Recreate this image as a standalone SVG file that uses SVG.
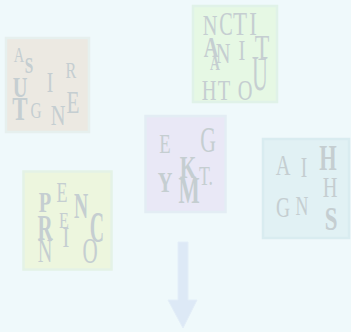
<svg xmlns="http://www.w3.org/2000/svg" width="351" height="332" viewBox="0 0 351 332">
<style>
.bg{fill:#eff9fb}
.box{stroke-width:2.5}
.l{font-family:"Liberation Serif","Times New Roman",serif;fill:#c5ced1;text-anchor:middle}
.b{font-weight:bold}
</style>
<rect class="bg" x="0" y="0" width="351" height="332"/>
<g id="signature">
<rect class="box" x="6" y="38" width="83" height="94" fill="#ece9e2" stroke="#e6f0ee"/>
<text class="l" font-size="17" transform="translate(19,62) scale(0.85,1.25)">A</text>
<text class="l b" font-size="18" transform="translate(29,73) scale(0.85,1.25)">S</text>
<text class="l" font-size="23" transform="translate(50,92) scale(0.85,1.25)">I</text>
<text class="l" font-size="19" transform="translate(71,78) scale(0.85,1.25)">R</text>
<text class="l b" font-size="24" transform="translate(20,97) scale(0.85,1.25)">U</text>
<text class="l b" font-size="27" transform="translate(20,120) scale(0.85,1.25)">T</text>
<text class="l" font-size="18" transform="translate(36,118) scale(0.85,1.25)">G</text>
<text class="l" font-size="24" transform="translate(58,125) scale(0.85,1.25)">N</text>
<text class="l" font-size="25" transform="translate(73,113) scale(0.85,1.25)">E</text>
</g>
<g id="authentication">
<rect class="box" x="193" y="6" width="84" height="96" fill="#e6f8e4" stroke="#e0f2e8"/>
<text class="l" font-size="24" transform="translate(210,35) scale(0.85,1.25)">N</text>
<text class="l" font-size="27" transform="translate(226,35) scale(0.75,1.25)">C</text>
<text class="l" font-size="27" transform="translate(240,35) scale(0.85,1.25)">T</text>
<text class="l" font-size="27" transform="translate(253,35) scale(0.85,1.25)">I</text>
<text class="l b" font-size="24" transform="translate(211,57) scale(0.85,1.25)">A</text>
<text class="l" font-size="24" transform="translate(223,63) scale(0.85,1.25)">N</text>
<text class="l b" font-size="16" transform="translate(215,70) scale(0.85,1.25)">A</text>
<text class="l" font-size="24" transform="translate(242,60) scale(0.85,1.25)">I</text>
<text class="l" font-size="28" transform="translate(262,60) scale(0.85,1.25)">T</text>
<text class="l" font-size="24" transform="translate(209,100) scale(0.85,1.25)">H</text>
<text class="l" font-size="24" transform="translate(224,100) scale(0.85,1.25)">T</text>
<text class="l" font-size="24" transform="translate(245,100) scale(0.85,1.25)">O</text>
<text class="l" font-size="40" transform="translate(260,90) scale(0.55,1.25)">U</text>
</g>
<g id="keymgmt">
<rect class="box" x="145.5" y="116" width="80" height="96" fill="#e9e8f6" stroke="#e3edf4"/>
<text class="l" font-size="22" transform="translate(165,153) scale(0.85,1.25)">E</text>
<text class="l" font-size="29" transform="translate(208,152) scale(0.75,1.25)">G</text>
<text class="l b" font-size="25" transform="translate(188,178) scale(0.85,1.25)">K</text>
<text class="l" font-size="21" transform="translate(206,185) scale(0.85,1.25)">T.</text>
<text class="l b" font-size="24" transform="translate(165,192) scale(0.85,1.25)">Y</text>
<text class="l b" font-size="30" transform="translate(189,203) scale(0.75,1.25)">M</text>
</g>
<g id="hashing">
<rect class="box" x="263" y="139" width="86" height="99" fill="#e1f1f4" stroke="#d9ecf0"/>
<text class="l" font-size="24" transform="translate(283,175) scale(0.85,1.25)">A</text>
<text class="l" font-size="23" transform="translate(304,177) scale(0.85,1.25)">I</text>
<text class="l b" font-size="28" transform="translate(328,170) scale(0.8,1.25)">H</text>
<text class="l" font-size="24" transform="translate(330,197) scale(0.85,1.25)">H</text>
<text class="l" font-size="23" transform="translate(283,217) scale(0.85,1.25)">G</text>
<text class="l" font-size="21" transform="translate(302,215) scale(0.85,1.25)">N</text>
<text class="l b" font-size="27" transform="translate(331,230) scale(0.85,1.25)">S</text>
</g>
<g id="encryption">
<rect class="box" x="23.5" y="171.5" width="88" height="98" fill="#edf6de" stroke="#e4f2e6"/>
<text class="l b" font-size="24" transform="translate(45,212) scale(0.85,1.25)">P</text>
<text class="l" font-size="24" transform="translate(62,202) scale(0.75,1.25)">E</text>
<text class="l b" font-size="28" transform="translate(81,218) scale(0.7,1.25)">N</text>
<text class="l b" font-size="28" transform="translate(45,240) scale(0.75,1.25)">R</text>
<text class="l" font-size="19" transform="translate(64,228) scale(0.85,1.25)">E</text>
<text class="l" font-size="24" transform="translate(66,247) scale(0.85,1.25)">I</text>
<text class="l b" font-size="36" transform="translate(97,242) scale(0.55,1.25)">C</text>
<text class="l" font-size="27" transform="translate(45,262) scale(0.75,1.25)">N</text>
<text class="l" font-size="28" transform="translate(90,263) scale(0.75,1.25)">O</text>
</g>
<g id="connectors">
<path d="M178,242 H188 V300 H197 L183,328 L168,300 H178 Z" fill="#dde9f6" stroke="#e3eef8" stroke-width="1"/>
</g>
</svg>
